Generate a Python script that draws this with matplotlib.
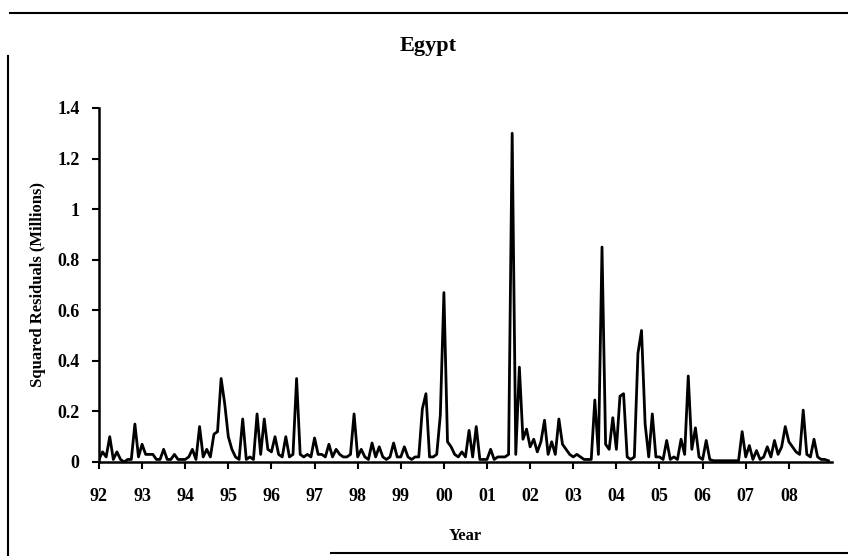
import numpy as np
import matplotlib
matplotlib.use("Agg")
import matplotlib.pyplot as plt
from matplotlib.lines import Line2D

# monthly squared residuals (millions)
r1992 = [0.01, 0.04, 0.02, 0.10, 0.01, 0.04, 0.01, 0.00, 0.01, 0.01, 0.15, 0.02]
r1993 = [0.07, 0.03, 0.03, 0.03, 0.01, 0.01, 0.05, 0.01, 0.01, 0.03, 0.01, 0.01]
r1994 = [0.01, 0.02, 0.05, 0.01, 0.14, 0.02, 0.05, 0.02, 0.11, 0.12, 0.33, 0.23]
r1995 = [0.10, 0.05, 0.02, 0.01, 0.17, 0.01, 0.02, 0.01, 0.19, 0.03, 0.17, 0.05]
r1996 = [0.04, 0.10, 0.03, 0.02, 0.10, 0.02, 0.03, 0.33, 0.03, 0.02, 0.03, 0.02]
r1997 = [0.095, 0.03, 0.03, 0.02, 0.07, 0.02, 0.05, 0.03, 0.02, 0.02, 0.03, 0.19]
r1998 = [0.02, 0.05, 0.02, 0.01, 0.075, 0.02, 0.06, 0.02, 0.01, 0.02, 0.075, 0.02]
r1999 = [0.02, 0.06, 0.02, 0.01, 0.02, 0.02, 0.21, 0.27, 0.02, 0.02, 0.03, 0.185]
r2000 = [0.67, 0.08, 0.06, 0.03, 0.02, 0.04, 0.02, 0.125, 0.02, 0.14, 0.01, 0.01]
r2001 = [0.01, 0.05, 0.01, 0.02, 0.02, 0.02, 0.03, 1.30, 0.03, 0.375, 0.09, 0.13]
r2002 = [0.06, 0.09, 0.04, 0.08, 0.165, 0.03, 0.08, 0.03, 0.17, 0.07, 0.05, 0.03]
r2003 = [0.02, 0.03, 0.02, 0.01, 0.01, 0.01, 0.245, 0.03, 0.85, 0.07, 0.05, 0.175]
r2004 = [0.05, 0.26, 0.27, 0.02, 0.01, 0.02, 0.43, 0.52, 0.15, 0.02, 0.19, 0.02]
r2005 = [0.02, 0.01, 0.085, 0.01, 0.02, 0.01, 0.09, 0.03, 0.34, 0.05, 0.135, 0.02]
r2006 = [0.01, 0.085, 0.01, 0.005, 0.005, 0.005, 0.005, 0.005, 0.005, 0.005, 0.005, 0.12]
r2007 = [0.02, 0.065, 0.01, 0.045, 0.01, 0.02, 0.06, 0.02, 0.085, 0.03, 0.06, 0.14]
r2008 = [0.08, 0.06, 0.04, 0.03, 0.205, 0.03, 0.02, 0.09, 0.02, 0.01, 0.01, 0.005]

years = list(range(1992, 2009))
year_labels = ['92', '93', '94', '95', '96', '97', '98', '99',
               '00', '01', '02', '03', '04', '05', '06', '07', '08']
yticks = [0, 0.2, 0.4, 0.6, 0.8, 1, 1.2, 1.4]

series = [r1992, r1993, r1994, r1995, r1996, r1997, r1998, r1999, r2000,
          r2001, r2002, r2003, r2004, r2005, r2006, r2007, r2008]
vals = np.concatenate(series)
t = np.concatenate([y + np.arange(12) / 12.0 for y in years])

plt.rcParams['font.family'] = ['Liberation Serif', 'DejaVu Serif']
plt.rcParams['font.weight'] = 'bold'

fig = plt.figure(figsize=(8.48, 5.56), dpi=100)
ax = fig.add_axes([0.1167, 0.1691, 0.8644, 0.6367])

ax.plot(t, vals, color='black', lw=2.0)

ax.set_xlim(1992, 2009)
ax.set_ylim(0, 1.4)
ax.set_xticks(years)
ax.set_xticklabels(year_labels)
ax.set_yticks(yticks)
ax.set_yticklabels(['%g' % v for v in yticks])
ax.tick_params(axis='both', labelsize=13, width=1.5, length=5)
ax.tick_params(axis='x', pad=14)
ax.tick_params(axis='y', pad=9)

for s in ['top', 'right']:
    ax.spines[s].set_visible(False)
for s in ['left', 'bottom']:
    ax.spines[s].set_linewidth(1.8)

ax.set_xlabel('Year', fontsize=12, fontweight='bold', labelpad=16)
ax.set_ylabel('Squared Residuals (Millions)', fontsize=12, fontweight='bold', labelpad=8)
fig.suptitle('Egypt', x=0.505, y=0.935, fontsize=16, fontweight='bold')

# scanned page frame
fig.add_artist(Line2D([0.012, 1.0], [0.977, 0.977], color='black', lw=1.5))
fig.add_artist(Line2D([0.009, 0.009], [0.0, 0.9], color='black', lw=1.5))
fig.add_artist(Line2D([0.39, 1.0], [0.005, 0.005], color='black', lw=1.5))

plt.savefig('out.png', dpi=100)
